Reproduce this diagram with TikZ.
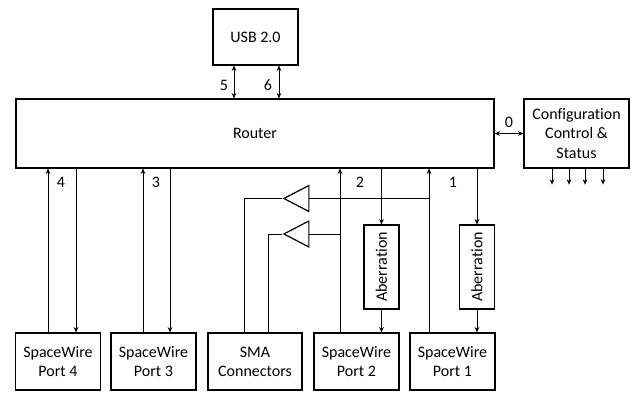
\documentclass[tikz,border=0pt]{standalone}
\usepackage{fontspec}
\setmainfont{Carlito}[Ligatures=CommonOff]
\usepackage{graphicx}
\usepackage{tikz}
\usetikzlibrary{shapes,arrows.meta,positioning,calc}
\newcommand{\unitpx}{0.75pt}

\begin{document}
\begin{tikzpicture}[
    x=\unitpx, y=-\unitpx,
    font=\fontsize{12}{14.4}\selectfont,
    box/.style={rectangle, draw, line width=0.9pt, align=center, inner sep=0pt},
    port/.style={box, minimum width=85*\unitpx, minimum height=57*\unitpx},
    aber/.style={box, minimum width=35*\unitpx, minimum height=84*\unitpx},
    buffer/.style={isosceles triangle, isosceles triangle stretches, shape border rotate=180, draw, line width=0.9pt, minimum width=26*\unitpx, minimum height=25*\unitpx, inner sep=0pt},
    wire/.style={line width=0.6pt},
    arrow/.style={wire, ->, >={Stealth[length=4pt, width=3.5pt]}},
    both/.style={wire, <->, >={Stealth[length=4pt, width=3.5pt]}},
    lbl/.style={inner sep=0pt}
]
    \useasboundingbox (0,0) rectangle (637,406);

    \node[box, minimum width=85*\unitpx, minimum height=56*\unitpx] (usb) at (255.5,37) {USB 2.0};
    \node[box, minimum width=478*\unitpx, minimum height=69*\unitpx] (router) at (255,133.5) {Router};
    \node[box, minimum width=105*\unitpx, minimum height=69*\unitpx] (config) at (576.5,133.5) {Configuration\\Control \&\\Status};

    \node[port] (sw4) at (58,361.5) {SpaceWire\\Port 4};
    \node[port] (sw3) at (153.5,361.5) {SpaceWire\\Port 3};
    \node[port, minimum width=94*\unitpx] (sma) at (255,361.5) {SMA\\Connectors};
    \node[port] (sw2) at (356.5,361.5) {SpaceWire\\Port 2};
    \node[port] (sw1) at (452.5,361.5) {SpaceWire\\Port 1};

    \node[aber] (ab2) at (381.5,267) {\rotatebox{90}{Aberration}};
    \node[aber] (ab1) at (477,267) {\rotatebox{90}{Aberration}};

    \node[buffer] (buf1) at (301,198.5) {};
    \node[buffer] (buf2) at (301,234) {};

    % wire columns
    \coordinate (c5) at (234,0);
    \coordinate (c6) at (279,0);
    \coordinate (up4) at (48,0);
    \coordinate (dn4) at (76,0);
    \coordinate (up3) at (143,0);
    \coordinate (dn3) at (170,0);
    \coordinate (up2) at (340,0);
    \coordinate (up1) at (429,0);
    \coordinate (sa) at (244,0);
    \coordinate (sb) at (268,0);

    \draw[both] (c5 |- usb.south) -- (c5 |- router.north);
    \draw[both] (c6 |- usb.south) -- (c6 |- router.north);
    \draw[both] (router.east) -- (config.west);

    \foreach \c/\p in {up4/sw4, up3/sw3, up2/sw2, up1/sw1}
        \draw[arrow] (\c |- \p.north) -- (\c |- router.south);
    \foreach \c/\p in {dn4/sw4, dn3/sw3}
        \draw[arrow] (\c |- router.south) -- (\c |- \p.north);
    \foreach \a/\p in {ab2/sw2, ab1/sw1} {
        \draw[arrow] (\a |- router.south) -- (\a.north);
        \draw[arrow] (\a.south) -- (\a |- \p.north);
    }

    % buffers to SMA
    \draw[wire] (up1 |- buf1.east) -- (buf1.east);
    \draw[wire] (buf1.west) -| (sa |- sma.north);
    \draw[wire] (up2 |- buf2.east) -- (buf2.east);
    \draw[wire] (buf2.west) -| (sb |- sma.north);

    % status outputs
    \foreach \x in {-24.5,-7.5,8.5,26.5}
        \draw[arrow] ([xshift=\x*\unitpx]config.south) -- ++(0,16);

    % port numbers
    \node[lbl] (l5) at (224,85) {5};
    \node[lbl] (l6) at (268,85) {6};
    \node[lbl] (l0) at (509,122) {0};
    \node[lbl] (l4) at (61,182) {4};
    \node[lbl] (l3) at (156,182) {3};
    \node[lbl] (l2) at (360,182) {2};
    \node[lbl] (l1) at (453,182) {1};
\end{tikzpicture}
\end{document}
